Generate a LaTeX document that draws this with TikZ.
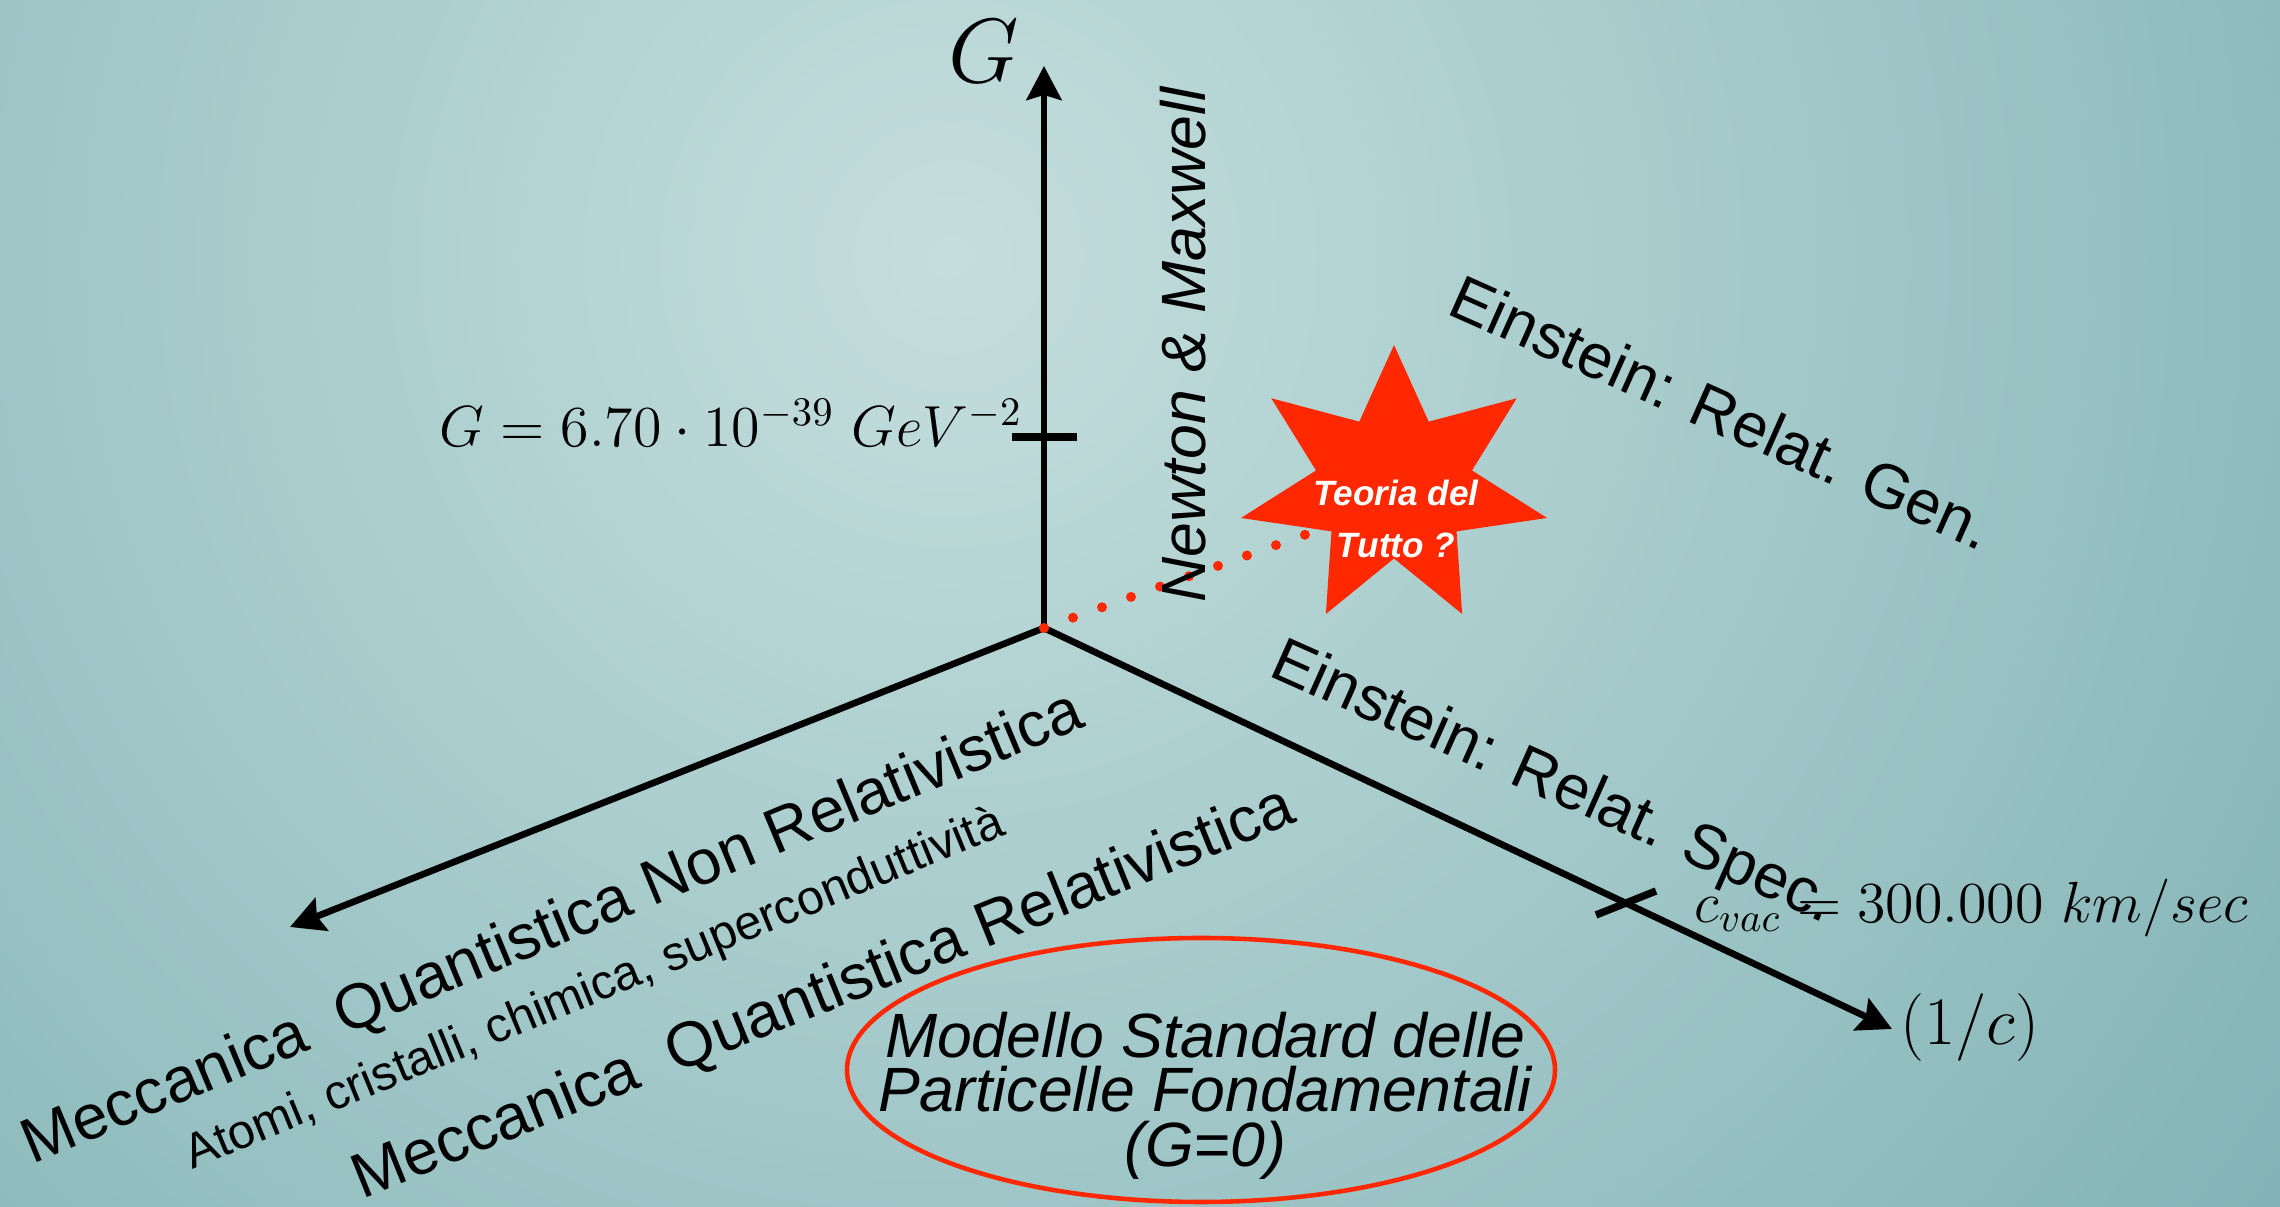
\RequirePackage{fix-cm}
\documentclass[tikz,border=0pt]{standalone}
\usepackage{fontspec}
\newfontfamily\helv{Liberation Sans}
\usetikzlibrary{arrows.meta}

\definecolor{bglight}{RGB}{197,222,221}
\definecolor{bgdark}{RGB}{128,178,181}
\definecolor{toered}{RGB}{255,40,0}

\tikzset{
  axisline/.style={line width=1.9pt, ->},
  axtick/.style={line width=2.1pt},
  dotline/.style={toered, line width=2.85pt, line cap=round, dash pattern=on 0pt off 8.76pt},
  biglbl/.style={font=\helv\fontsize{17.8}{21}\selectfont, inner sep=0pt},
  smalllbl/.style={font=\helv\fontsize{13.75}{16}\selectfont, inner sep=0pt},
  vallbl/.style={font=\fontsize{16.5}{20}\selectfont, inner sep=0pt},
  toetext/.style={font=\helv\bfseries\itshape\fontsize{10}{14.8}\selectfont, text=white, align=center, inner sep=0pt},
  smtext/.style={font=\helv\itshape\fontsize{17.8}{15.6}\selectfont, align=center, inner sep=0pt}
}

\begin{document}
\begin{tikzpicture}[>={Stealth[length=0.34cm,width=0.35cm,inset=0.05cm]}]
  % background, lighter towards the upper middle
  \useasboundingbox (0,0) rectangle (22.8,12.07);
  \begin{scope}
    \clip (0,0) rectangle (22.8,12.07);
    \fill[bgdark] (0,0) rectangle (22.8,12.07);
    \shade[inner color=bglight, outer color=bgdark] (9.5,9.5) circle (17);
  \end{scope}

  % the three axes out of the origin
  \coordinate (O) at (10.44,5.79);
  \coordinate (Gend) at (10.44,11.41);
  \coordinate (Lend) at (2.90,2.80);
  \coordinate (Rend) at (18.92,1.78);
  \draw[axisline] (O) -- (Gend);
  \draw[axisline] (O) -- (Lend);
  \draw[axisline] (O) -- (Rend);

  % tick marks at the measured values
  \coordinate (gt) at (10.44,7.70);
  \coordinate (ct) at (16.26,3.04);
  \draw[axtick] ([xshift=-0.32cm]gt) -- ([xshift=0.33cm]gt);
  \draw[axtick] ([shift={(-0.30,-0.12)}]ct) -- ([shift={(0.30,0.12)}]ct);

  % dotted way towards the star
  \coordinate (sc) at (13.94,7.205);
  \coordinate (dend) at (13.94,7.04);
  \draw[dotline] (O) -- (dend);

  % seven-pointed star
  \fill[toered, shift={(sc)}] (90:1.57cm and 1.415cm)
    \foreach \i in {0,...,6} {
      -- ({115.714+\i*51.429}:0.80cm and 0.72cm)
      -- ({141.429+\i*51.429}:1.57cm and 1.415cm)
    } -- cycle;
  \node[toetext, anchor=north] (toe) at (13.96,7.28) {Teoria del\\Tutto ?};

  % axis names and values
  \node[vallbl, font=\fontsize{26}{30}\selectfont, anchor=base east] (Gname) at (10.20,11.24) {$G$};
  \node[vallbl, anchor=base east] (Gval) at (10.23,7.60) {$G=6.70\cdot 10^{-39}\ GeV^{-2}$};
  \node[vallbl, anchor=base west] (cval) at (16.94,2.84) {$c_{vac}=300.000\ km/sec$};
  \node[vallbl, font=\fontsize{19.3}{23}\selectfont, anchor=base west] (invc) at (19.00,1.62) {$(1/c)$};

  % theories along the axes
  \node[biglbl, font=\helv\itshape\fontsize{17.8}{21}\selectfont, rotate=90, anchor=base west] (newton) at (12.05,6.04) {Newton \& Maxwell};
  \node[biglbl, rotate=-24, anchor=base west] (relgen) at (14.45,8.94) {Einstein: Relat. Gen.};
  \node[biglbl, rotate=-24, anchor=base west] (relspec) at (12.67,5.32) {Einstein: Relat. Spec.};
  \node[biglbl, font=\helv\fontsize{18}{21}\selectfont, rotate=22.6, anchor=base west] (mqnr) at (0.32,0.42) {Meccanica\ \ Quantistica Non Relativistica};
  \node[smalllbl, rotate=22.4, anchor=base west] (atomi) at (1.92,0.37) {Atomi, cristalli, chimica, superconduttività};
  \node[biglbl, font=\helv\fontsize{18}{21}\selectfont, rotate=22, anchor=base west] (mqr) at (3.62,0.07) {Meccanica\ \ Quantistica Relativistica};

  % standard model circled in red
  \draw[toered, line width=1.3pt] (12.01,1.37) ellipse (3.54 and 1.32);
  \node[smtext, anchor=north] (smodel) at (12.05,1.96) {Modello Standard delle\\Particelle Fondamentali\\(G=0)};
\end{tikzpicture}
\end{document}
